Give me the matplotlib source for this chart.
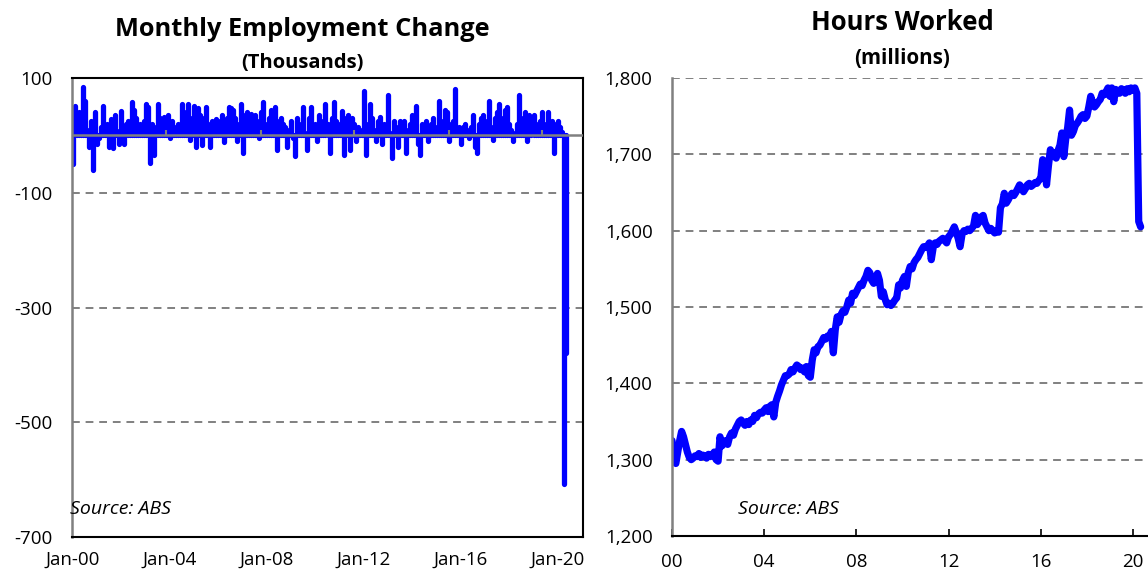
import numpy as np
import matplotlib.pyplot as plt
from matplotlib.ticker import FuncFormatter

plt.rcParams['font.family'] = ['Open Sans', 'DejaVu Sans']
plt.rcParams['axes.unicode_minus'] = False

# monthly employment change, thousands, Jan-2000 .. May-2020
emp_change = [
    -50, 52, 30, 40, 15, 85, 60, 10, -20, 25, -60, 40,      # 2000
    -15, -5, 15, 52, 5, 20, -20, 28, -22, 35, 8, -15,       # 2001
    42, -15, 20, 25, 10, 58, 45, 30, 5, 20, 10, 25,         # 2002
    55, 50, -48, 20, -35, 15, 55, 30, 10, 32, 18, 35,       # 2003
    -5, 25, 15, 10, 20, 5, 55, 40, 25, 55, -8, 30,          # 2004
    52, -20, 48, 35, -17, 30, 50, 20, -20, 25, 15, 28,      # 2005
    10, 25, 35, -12, 30, 50, 48, 45, 30, -10, 20, 55,       # 2006
    -30, 35, 40, 15, 38, 30, 35, 25, -5, 40, 58, 20,        # 2007
    10, 30, 45, 15, 50, -26, 25, 30, 20, 15, -20, 10,       # 2008
    25, -5, -36, 30, 20, 10, 50, 5, -25, 30, 50, 15,        # 2009
    20, -10, 35, 25, 10, 55, 20, -30, 30, 58, 25, 10,       # 2010
    20, 42, -35, 30, 35, -25, 30, 20, -10, 15, 10, 5,       # 2011
    78, -35, 20, 55, 30, 10, -10, 25, 32, -15, 20, 15,      # 2012
    70, 5, -40, 25, 15, -20, 25, 10, 25, -30, 10, 20,       # 2013
    35, 15, 52, -15, -35, 20, 15, 25, -10, 20, 30, 15,      # 2014
    10, 60, 25, 10, 45, 40, -10, 20, 25, 80, 10, 15,        # 2015
    -15, 15, 20, 10, -5, 15, 35, -20, -30, 20, 30, 35,      # 2016
    20, 25, 60, 15, -8, 30, 40, 55, 30, 20, 45, 50,         # 2017
    20, 10, -10, 5, 20, 70, 30, 15, 40, -10, 35, 20,        # 2018
    35, 10, 20, 25, 40, 15, 20, 40, 10, 25, -30, 20,        # 2019
    25, 15, 6, -607, -380,                                  # 2020
]

# hours worked, millions, Jan-2000 .. May-2020
hours = [
    1325, 1300, 1295, 1310, 1325, 1337, 1330, 1320, 1310, 1303, 1300, 1302,
    1305, 1304, 1308, 1303, 1306, 1305, 1302, 1307, 1304, 1306, 1310, 1300,
    1298, 1330, 1318, 1322, 1325, 1320, 1330, 1335, 1332, 1340, 1345, 1350,
    1352, 1348, 1345, 1350, 1346, 1352, 1350, 1358, 1355, 1360, 1362, 1361,
    1365, 1368, 1363, 1370, 1372, 1356, 1375, 1383, 1390, 1398, 1404, 1410,
    1410, 1412, 1418, 1415, 1420, 1424, 1422, 1418, 1420, 1415, 1422, 1410,
    1408, 1430, 1444, 1440, 1448, 1450, 1455, 1460, 1458, 1462, 1461, 1468,
    1440, 1470, 1487, 1480, 1490, 1495, 1493, 1500, 1509, 1505, 1518, 1515,
    1520, 1525, 1530, 1528, 1535, 1540, 1548, 1545, 1535, 1531, 1538, 1544,
    1535, 1514, 1520, 1510, 1503, 1505, 1502, 1505, 1509, 1512, 1529, 1525,
    1535, 1540, 1527, 1545, 1553, 1550, 1558, 1562, 1565, 1570, 1575, 1579,
    1578, 1580, 1584, 1562, 1578, 1584, 1582, 1586, 1588, 1590, 1587, 1584,
    1592, 1595, 1600, 1605, 1598, 1590, 1579, 1595, 1600, 1599, 1602, 1600,
    1603, 1606, 1620, 1608, 1612, 1618, 1620, 1610, 1605, 1600, 1603, 1600,
    1597, 1600, 1598, 1630, 1635, 1649, 1636, 1640, 1645, 1649, 1646, 1650,
    1655, 1660, 1657, 1651, 1655, 1660, 1662, 1658, 1660, 1663, 1662, 1666,
    1668, 1693, 1690, 1660, 1685, 1706, 1700, 1702, 1695, 1705, 1712, 1728,
    1697, 1720, 1735, 1758, 1725, 1730, 1738, 1741, 1745, 1750, 1752, 1747,
    1750, 1762, 1776, 1768, 1762, 1765, 1769, 1772, 1780, 1778, 1782, 1787,
    1776, 1787, 1769, 1785, 1783, 1780, 1786, 1784, 1780, 1786, 1782, 1787,
    1784, 1787, 1780, 1612, 1605,
]

left_xlabels = ['Jan-00', 'Jan-04', 'Jan-08', 'Jan-12', 'Jan-16', 'Jan-20']
right_xlabels = ['00', '04', '08', '12', '16', '20']
left_yticks = [100, -100, -300, -500, -700]
right_yticks = [1200, 1300, 1400, 1500, 1600, 1700, 1800]

BLUE = '#0000ff'
GREY = '#808080'
W, H = 1148, 572
TICK_FS = 13.5

fig = plt.figure(figsize=(W / 100, H / 100), dpi=100)

# ---- left panel: monthly employment change
ax1 = fig.add_axes([72 / W, 35 / H, 511 / W, 459 / H])
m1 = np.arange(len(emp_change))
ax1.vlines(m1, 0, emp_change, color=BLUE, lw=3.8, capstyle='round', zorder=2)
ax1.axhline(0, color=GREY, lw=1.8, zorder=3)
ax1.vlines([46, 93, 139, 186, 232], 0, 9, color=GREY, lw=1.5, zorder=3)
ax1.set_ylim(-700, 100)
ax1.set_xlim(-0.5, 252.5)
ax1.set_yticks(left_yticks)
ax1.set_xticks(np.arange(0, 241, 48), left_xlabels)
ax1.yaxis.grid(True, color=GREY, ls=(0, (4, 3)), lw=1.4)
ax1.set_axisbelow(True)
ax1.tick_params(axis='y', length=0, pad=14, labelsize=TICK_FS)
ax1.tick_params(axis='x', length=0, pad=10, labelsize=TICK_FS)
for s in ['top', 'right', 'bottom']:
    ax1.spines[s].set_color('black')
    ax1.spines[s].set_linewidth(1.5)
ax1.spines['left'].set_color(GREY)
ax1.spines['left'].set_linewidth(1.8)
ax1.text(-0.004, 0.061, 'Source: ABS', transform=ax1.transAxes, style='italic',
         fontsize=14, va='center', ha='left')

fig.text(302 / W, 1 - 30 / H, 'Monthly Employment Change', ha='center', va='center',
         fontsize=18.3, weight='bold')
fig.text(302 / W, 1 - 63 / H, '(Thousands)', ha='center', va='center',
         fontsize=14.5, weight='bold')

# ---- right panel: hours worked
ax2 = fig.add_axes([672 / W, 36 / H, 484 / W, 458 / H])
m2 = np.arange(len(hours))
ax2.plot(m2, hours, color=BLUE, lw=5.2, solid_joinstyle='round', solid_capstyle='round')
ax2.set_ylim(1200, 1800)
ax2.set_xlim(0, 252)
ax2.set_yticks(right_yticks)
ax2.yaxis.set_major_formatter(FuncFormatter(lambda v, p: f'{v:,.0f}'))
ax2.set_xticks(np.arange(0, 241, 48), right_xlabels)
ax2.yaxis.grid(True, color=GREY, ls=(0, (4, 3)), lw=1.4)
ax2.set_axisbelow(True)
ax2.tick_params(axis='y', length=0, pad=14, labelsize=TICK_FS)
ax2.tick_params(axis='x', direction='in', length=5, width=1.2, pad=12, labelsize=TICK_FS)
ax2.spines['top'].set_visible(False)
ax2.spines['right'].set_visible(False)
ax2.spines['bottom'].set_color('black')
ax2.spines['bottom'].set_linewidth(1.5)
ax2.spines['left'].set_color(GREY)
ax2.spines['left'].set_linewidth(1.8)
ax2.text(0.137, 0.059, 'Source: ABS', transform=ax2.transAxes, style='italic',
         fontsize=14, va='center', ha='left')

fig.text(902 / W, 1 - 23 / H, 'Hours Worked', ha='center', va='center',
         fontsize=18.5, weight='bold')
fig.text(902 / W, 1 - 58 / H, '(millions)', ha='center', va='center',
         fontsize=14.8, weight='bold')

fig.savefig('out.png', dpi=100)
